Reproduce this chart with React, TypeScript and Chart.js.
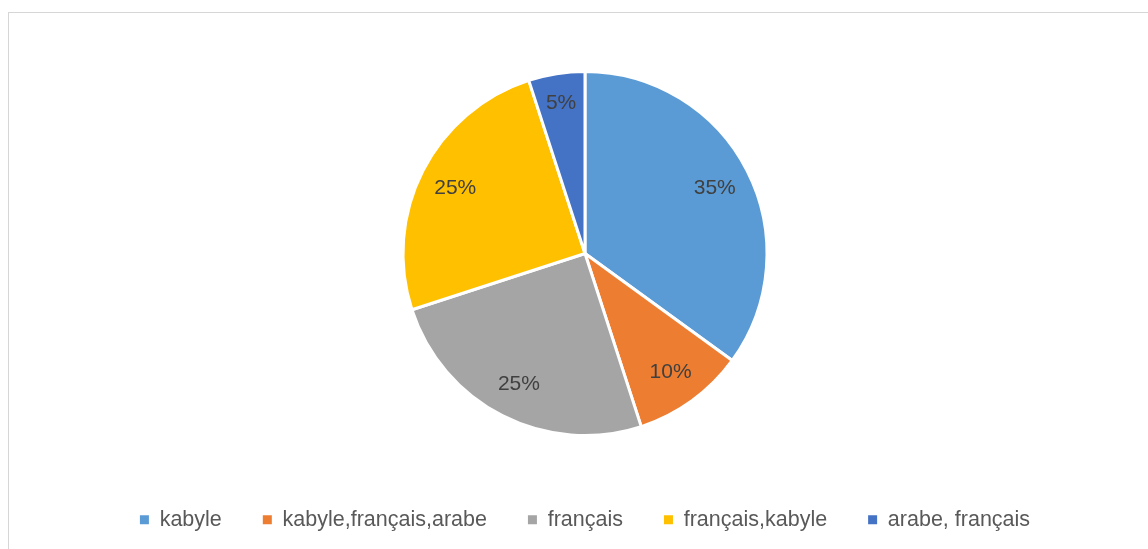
import React, { useEffect, useRef } from "react";
import { Chart, registerables } from "chart.js";

Chart.register(...registerables);

const categories = ["kabyle", "kabyle,français,arabe", "français", "français,kabyle", "arabe, français"];
const values = [35, 10, 25, 25, 5];
const valueLabels = ["35%", "10%", "25%", "25%", "5%"];
const colors = ["#5B9BD5", "#ED7D31", "#A5A5A5", "#FFC000", "#4472C4"];

const W = 1148;
const H = 549;

const pctLabels = {
  id: "pctLabels",
  afterDatasetsDraw(chart: any) {
    const ctx = chart.ctx;
    const meta = chart.getDatasetMeta(0);
    ctx.save();
    ctx.font = "21px 'Liberation Sans', Arial, sans-serif";
    ctx.fillStyle = "#404040";
    ctx.textAlign = "center";
    ctx.textBaseline = "middle";
    meta.data.forEach((arc: any, i: number) => {
      const p = arc.getProps(["x", "y", "startAngle", "endAngle", "outerRadius"], true);
      const mid = (p.startAngle + p.endAngle) / 2;
      const r = p.outerRadius * (values[i] < 8 ? 0.84 : 0.8);
      ctx.fillText(valueLabels[i], p.x + Math.cos(mid) * r, p.y + Math.sin(mid) * r + 1);
    });
    ctx.restore();
  },
};

export default function App() {
  const ref = useRef<HTMLCanvasElement>(null);
  useEffect(() => {
    if (!ref.current) return;
    const chart = new Chart(ref.current, {
      type: "pie",
      data: {
        labels: categories,
        datasets: [
          {
            data: values,
            backgroundColor: colors,
            borderColor: "#ffffff",
            borderWidth: 3,
            radius: 182,
          } as any,
        ],
      },
      options: {
        responsive: false,
        animation: false,
        layout: { padding: { top: 39, bottom: 8.5, left: 22, right: 0 } },
        plugins: {
          tooltip: { enabled: false },
          legend: {
            position: "bottom",
            labels: {
              boxWidth: 9,
              boxHeight: 9,
              padding: 41,
              color: "#595959",
              font: { size: 21.5, family: "'Liberation Sans', Arial, sans-serif" },
              generateLabels: (chart: any) => {
                const base = (Chart as any).overrides.pie.plugins.legend.labels.generateLabels(chart);
                return base.map((l: any) => ({ ...l, lineWidth: 0, strokeStyle: l.fillStyle }));
              },
            },
          },
        },
      },
      plugins: [pctLabels],
    });
    return () => chart.destroy();
  }, []);
  return (
    <div style={{ position: "fixed", left: 0, top: 0, width: W, height: H, overflow: "hidden", background: "#fff" }}>
      <div
        style={{
          position: "absolute",
          left: 8,
          top: 12,
          width: 1200,
          height: 600,
          border: "1px solid #d6d6d6",
          boxSizing: "border-box",
        }}
      />
      <canvas ref={ref} width={W} height={H} style={{ position: "absolute", left: 0, top: 0, width: W, height: H }} />
    </div>
  );
}
